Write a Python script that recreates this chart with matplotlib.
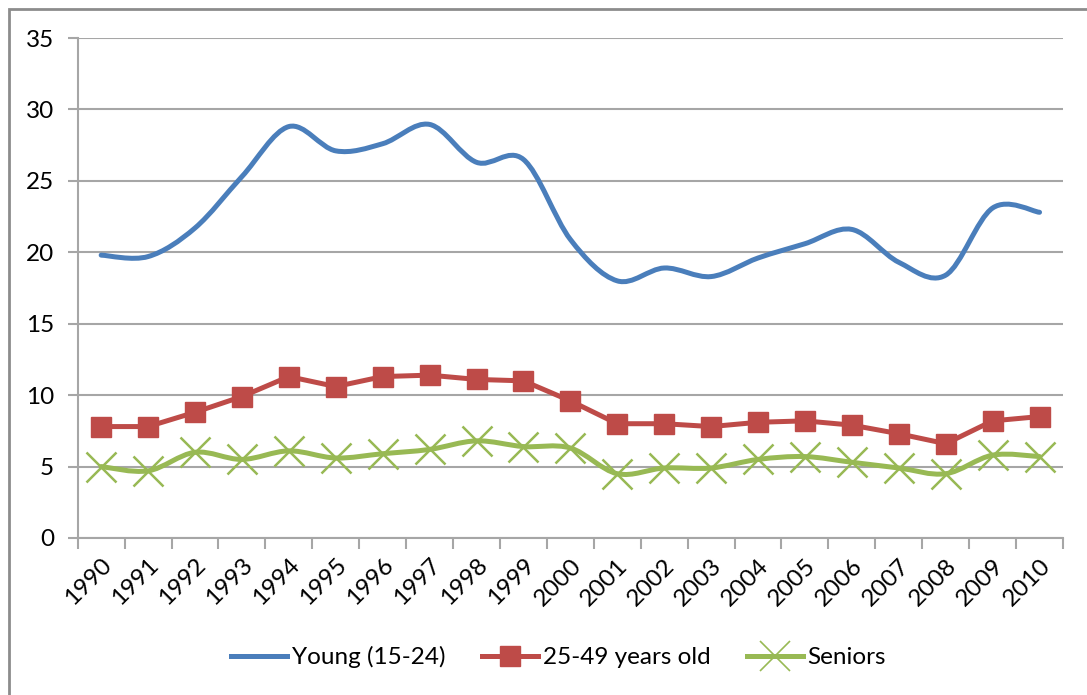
import matplotlib.pyplot as plt
from matplotlib.path import Path
from matplotlib.patches import PathPatch, Rectangle
from matplotlib.lines import Line2D

years = [str(y) for y in range(1990, 2011)]
young = [19.8, 19.7, 21.7, 25.3, 28.8, 27.1, 27.6, 28.95, 26.3, 26.5, 20.9,
         18.0, 18.9, 18.3, 19.6, 20.6, 21.6, 19.3, 18.4, 23.1, 22.8]
middle = [7.8, 7.8, 8.8, 9.9, 11.3, 10.6, 11.3, 11.4, 11.1, 11.0, 9.6,
          8.0, 8.0, 7.8, 8.1, 8.2, 7.9, 7.3, 6.6, 8.2, 8.5]
seniors = [5.0, 4.7, 6.0, 5.5, 6.1, 5.6, 5.9, 6.2, 6.8, 6.4, 6.3,
           4.5, 4.9, 4.9, 5.5, 5.7, 5.3, 4.9, 4.5, 5.8, 5.7]

BLUE = "#4A7EBB"
RED = "#BE4B48"
GREEN = "#98B954"
GRID = "#A6A6A6"

plt.rcParams["font.family"] = ["Lato", "DejaVu Sans"]


def smooth_path(xs, ys):
    # Excel-like smoothed line: cubic Bezier segments with Catmull-Rom tangents
    pts = list(zip(xs, ys))
    n = len(pts)
    verts = [pts[0]]
    codes = [Path.MOVETO]
    for i in range(n - 1):
        p0 = pts[i - 1] if i > 0 else pts[i]
        p1 = pts[i]
        p2 = pts[i + 1]
        p3 = pts[i + 2] if i + 2 < n else pts[i + 1]
        c1 = (p1[0] + (p2[0] - p0[0]) / 6, p1[1] + (p2[1] - p0[1]) / 6)
        c2 = (p2[0] - (p3[0] - p1[0]) / 6, p2[1] - (p3[1] - p1[1]) / 6)
        verts += [c1, c2, p2]
        codes += [Path.CURVE4] * 3
    return Path(verts, codes)


fig = plt.figure(figsize=(10.87, 6.95), dpi=100)
ax = fig.add_axes([77.7 / 1087, 1 - 538 / 695, (1063 - 77.7) / 1087, 500 / 695])

x = list(range(len(years)))

ax.add_patch(PathPatch(smooth_path(x, young), fill=False, edgecolor=BLUE,
                       lw=3.6, capstyle="round", joinstyle="round", zorder=3))
ax.plot(x, middle, color=RED, lw=3.6, marker="s", markersize=15,
        markeredgecolor=RED, markerfacecolor=RED, zorder=4)
ax.add_patch(PathPatch(smooth_path(x, seniors), fill=False, edgecolor=GREEN,
                       lw=3.6, capstyle="round", joinstyle="round", zorder=3))
ax.plot(x, seniors, ls="none", marker="x", markersize=21, markeredgewidth=1.8,
        color=GREEN, zorder=3)

ax.set_xlim(-0.5, len(years) - 0.5)
ax.set_ylim(0, 35)
ax.set_yticks(range(0, 36, 5))
ax.grid(axis="y", color=GRID, lw=1.5)
ax.set_axisbelow(True)

ax.set_xticks(x)
ax.set_xticklabels(years, rotation=45, ha="right", va="top",
                   rotation_mode="anchor", fontsize=17.5)
ax.set_xticks([i - 0.5 for i in range(len(years) + 1)], minor=True)
ax.tick_params(axis="x", which="major", length=0, pad=12)
ax.tick_params(axis="x", which="minor", length=8, width=1.5, color=GRID)
ax.tick_params(axis="y", length=7, width=1.5, color=GRID, labelsize=17.5,
               pad=10)

for side in ["top", "right"]:
    ax.spines[side].set_visible(False)
for side in ["left", "bottom"]:
    ax.spines[side].set_color(GRID)
    ax.spines[side].set_linewidth(1.5)

handles = [
    Line2D([], [], color=BLUE, lw=3.6),
    Line2D([], [], color=RED, lw=3.6, marker="s", markersize=15),
    Line2D([], [], color=GREEN, lw=3.6, marker="x", markersize=21,
           markeredgewidth=1.2),
]
fig.legend(handles, ["Young (15-24)", "25-49 years old", "Seniors"],
           loc="center", bbox_to_anchor=(0.514, 1 - 657 / 695), ncol=3,
           frameon=False, fontsize=17.5, handlelength=2.3, handletextpad=0.2,
           columnspacing=1.5)

fig.patches.append(Rectangle((9 / 1087, -0.1), 1.2, 1 - 9 / 695 + 0.1,
                             transform=fig.transFigure, fill=False,
                             edgecolor="#8C8C8C", lw=2))

fig.savefig("out.png", dpi=100)
